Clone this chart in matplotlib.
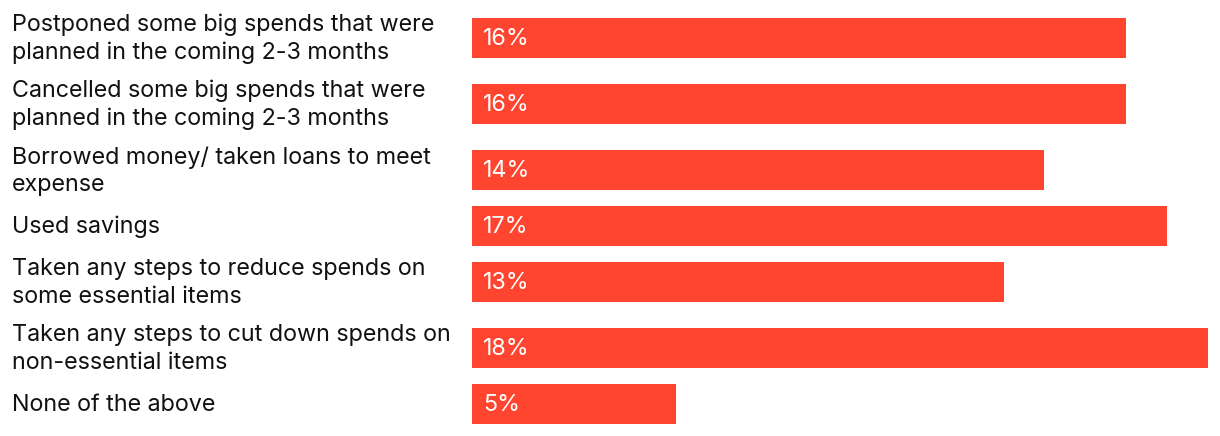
import matplotlib.pyplot as plt
from matplotlib.transforms import blended_transform_factory

labels = [
    "Postponed some big spends that were\nplanned in the coming 2-3 months",
    "Cancelled some big spends that were\nplanned in the coming 2-3 months",
    "Borrowed money/ taken loans to meet\nexpense",
    "Used savings",
    "Taken any steps to reduce spends on\nsome essential items",
    "Taken any steps to cut down spends on\nnon-essential items",
    "None of the above",
]
values = [16, 16, 14, 17, 13, 18, 5]

W, H = 1220, 436
bar_color = "#FF4530"
plt.rcParams["font.family"] = ["Inter", "DejaVu Sans"]

# row layout in pixels: taller rows for two-line labels
bar_h = 40
gap = 10
centers = []
y = 10
for lab in labels:
    row = 56 if "\n" in lab else 36
    centers.append(y + row / 2)
    y += row + gap

fig = plt.figure(figsize=(W / 100, H / 100), dpi=100)
ax = fig.add_axes([472 / W, 0, (1208 - 472) / W, 1])
ax.set_xlim(0, 18)
ax.set_ylim(H, 0)
ax.axis("off")

ax.barh(centers, values, height=bar_h, color=bar_color)

tr = blended_transform_factory(fig.transFigure, ax.transData)
for c, lab, v in zip(centers, labels, values):
    ax.text(12 / W, c + 1, lab, transform=tr, ha="left", va="center",
            fontsize=16.8, color="#111111", linespacing=1.32)
    ax.text(0.27, c + 1, f"{v}%", ha="left", va="center",
            fontsize=16.8, color="white")

fig.savefig("out.png", dpi=100)
